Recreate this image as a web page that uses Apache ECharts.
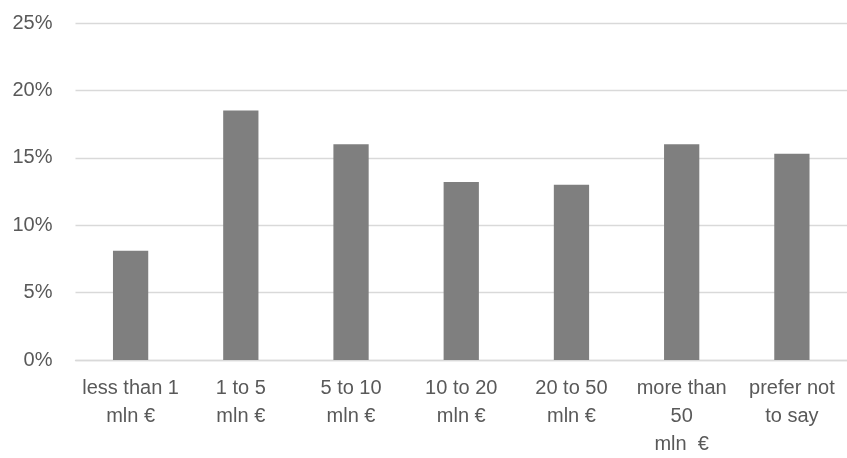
<!DOCTYPE html>
<html>
<head>
<meta charset="utf-8">
<script src="https://cdn.jsdelivr.net/npm/echarts@6/dist/echarts.min.js"></script>
<style>
html,body{margin:0;padding:0;background:#fff;}
#chart{width:847px;height:458px;}
</style>
</head>
<body>
<div id="chart"></div>
<script>
const categories = ['less than 1\nmln €', '1 to 5\nmln €', '5 to 10\nmln €', '10 to 20\nmln €', '20 to 50\nmln €', 'more than\n50\nmln  €', 'prefer not\nto say'];
const values = [8.1, 18.5, 16.0, 13.2, 13.0, 16.0, 15.3];
const yTicks = { min: 0, max: 25, interval: 5 };

const chart = echarts.init(document.getElementById('chart'), null, { renderer: 'canvas' });
chart.setOption({
  animation: false,
  backgroundColor: '#ffffff',
  grid: { left: 75.5, right: -5.5, top: 23, bottom: 97, containLabel: false },
  xAxis: {
    type: 'category',
    data: categories,
    axisLine: { show: true, lineStyle: { color: '#d9d9d9', width: 1.3 } },
    axisTick: { show: false },
    axisLabel: {
      interval: 0,
      margin: 14,
      color: '#595959',
      fontFamily: 'Liberation Sans',
      fontSize: 20,
      lineHeight: 28
    }
  },
  yAxis: {
    type: 'value',
    min: yTicks.min,
    max: yTicks.max,
    interval: yTicks.interval,
    axisLine: { show: false },
    axisTick: { show: false },
    splitLine: { lineStyle: { color: '#d9d9d9', width: 1.3 } },
    axisLabel: {
      formatter: '{value}%',
      margin: 23,
      color: '#595959',
      fontFamily: 'Liberation Sans',
      fontSize: 20
    }
  },
  series: [{
    type: 'bar',
    data: values,
    barWidth: '32%',
    itemStyle: { color: '#7f7f7f' }
  }]
});
</script>
</body>
</html>
